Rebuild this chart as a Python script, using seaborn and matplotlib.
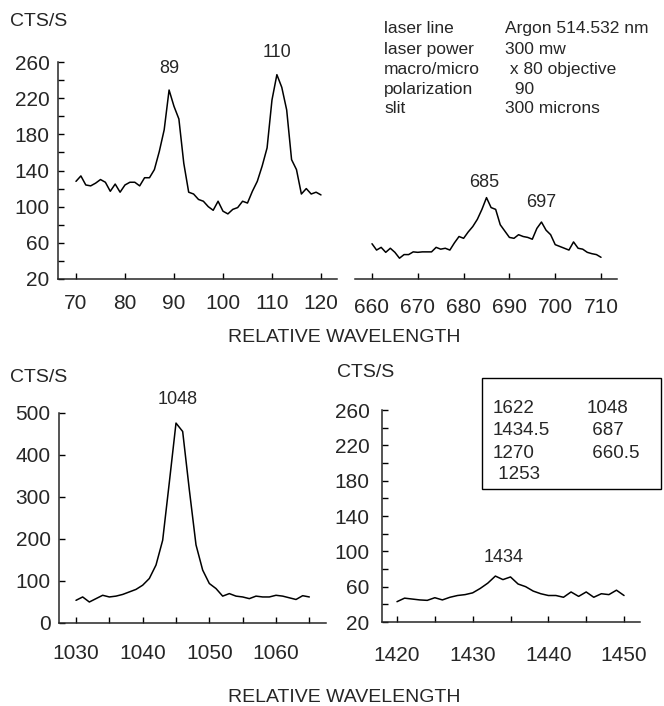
import numpy as np
import pandas as pd
import matplotlib
matplotlib.use("Agg")
import matplotlib.pyplot as plt
from matplotlib.patches import Rectangle
from matplotlib.ticker import FixedLocator
import seaborn as sns

# Raman spectra, counts per second versus relative wavelength
wl_a = list(range(70, 121))
cts_a = [128, 134, 124, 123, 126, 130, 127, 117, 125, 116,
         124, 127, 127, 123, 132, 132, 141, 161, 185, 229,
         211, 197, 148, 116, 114, 108, 106, 100, 96, 106,
         95, 92, 97, 99, 106, 104, 117, 128, 145, 165,
         218, 246, 232, 207, 152, 141, 114, 120, 114, 116,
         113]

wl_b = list(range(660, 711))
cts_b = [59, 52, 55, 49.5, 54, 49.5, 43, 47, 47, 50,
         49.5, 50, 50, 50, 55, 53, 54, 52, 60, 67,
         65, 72, 78, 86, 97, 110, 99, 97, 80, 73,
         66, 65, 69, 67, 66, 64, 76, 83, 74, 69,
         58, 56, 54, 52, 61, 54, 53, 49.5, 48, 47,
         44]

wl_c = list(range(1030, 1066))
cts_c = [54, 62, 50, 58, 66, 62, 64, 68, 74, 80,
         90, 106, 138, 197, 335, 476, 456, 317, 186, 126,
         94, 82, 64, 70, 64, 62, 58, 64, 62, 62,
         66, 64, 60, 56, 65, 62]

wl_d = list(range(1420, 1451))
cts_d = [43, 47, 46, 45, 44.5, 47.5, 45, 48, 50, 51,
         53, 58, 64, 72, 68, 71, 63, 60, 55, 52,
         50, 50, 48, 54, 49, 54, 48, 52, 51, 56,
         50]

# peak annotations: (text, x, y)
peaks_a = [("89", 89, 253), ("110", 111, 270)]
peaks_b = [("685", 684.5, 127), ("697", 697, 105)]
peaks_c = [("1048", 1045.2, 531)]
peaks_d = [("1434", 1434.1, 92.5)]

info_keys = ["laser line", "laser power", "macro/micro", "polarization", "slit"]
info_vals = ["Argon 514.532 nm", "300 mw", " x 80 objective", "  90", "300 microns"]

box_left = ["1622", "1434.5", "1270", " 1253"]
box_right = ["1048", " 687", " 660.5", ""]

sns.set_style("ticks")
plt.rcParams["font.family"] = ["Liberation Sans", "DejaVu Sans"]

W, H = 664, 706
fig = plt.figure(figsize=(W / 100, H / 100), dpi=100)


def rect(x0, y_top, x1, y_bot):
    return [x0 / W, 1 - y_bot / H, (x1 - x0) / W, (y_bot - y_top) / H]


def fx(x):
    return x / W


def fy(y):
    return 1 - y / H


def style(ax, xpad, ypad, show_y=True):
    sns.despine(ax=ax, left=not show_y)
    for s in ("left", "bottom"):
        ax.spines[s].set_linewidth(1.1)
    ax.tick_params(which="both", direction="in", length=4, width=1.0,
                   labelsize=15, color="black")
    ax.tick_params(axis="x", pad=xpad)
    ax.tick_params(axis="y", pad=ypad)
    ax.set_xlabel("")
    ax.set_ylabel("")
    if not show_y:
        ax.set_yticks([])


def draw(ax, x, y):
    df = pd.DataFrame({"wl": x, "cts": y})
    sns.lineplot(data=df, x="wl", y="cts", ax=ax, color="black",
                 linewidth=1.1, legend=False)


def label_peaks(ax, peaks, size=13):
    for t, x, y in peaks:
        ax.text(x, y, t, ha="center", va="center", fontsize=size, clip_on=False)


# upper left: 70-120
ax1 = fig.add_axes(rect(58, 62, 337, 279))
draw(ax1, wl_a, cts_a)
ax1.set_xlim(66.33, 123.27)
ax1.set_ylim(20, 260)
ax1.xaxis.set_major_locator(FixedLocator([70, 80, 90, 100, 110, 120]))
ax1.yaxis.set_major_locator(FixedLocator([20, 60, 100, 140, 180, 220, 260]))
ax1.yaxis.set_minor_locator(FixedLocator([40, 80, 120, 160, 200, 240]))
style(ax1, xpad=11, ypad=6)
label_peaks(ax1, peaks_a)

# upper right: 660-710, same intensity scale
ax2 = fig.add_axes(rect(355, 62, 617, 279))
draw(ax2, wl_b, cts_b)
ax2.set_xlim(656.29, 713.49)
ax2.set_ylim(20, 260)
ax2.xaxis.set_major_locator(FixedLocator([660, 670, 680, 690, 700, 710]))
style(ax2, xpad=14, ypad=6, show_y=False)
label_peaks(ax2, peaks_b)

# lower left: 1030-1065
ax3 = fig.add_axes(rect(59, 413, 326, 623))
draw(ax3, wl_c, cts_c)
ax3.set_xlim(1027.45, 1067.5)
ax3.set_ylim(0, 500)
ax3.xaxis.set_major_locator(FixedLocator([1030, 1040, 1050, 1060]))
ax3.xaxis.set_minor_locator(FixedLocator([1035, 1045, 1055, 1065]))
ax3.yaxis.set_major_locator(FixedLocator([0, 100, 200, 300, 400, 500]))
style(ax3, xpad=15, ypad=6)
label_peaks(ax3, peaks_c)

# lower right: 1420-1450
ax4 = fig.add_axes(rect(382, 410, 640, 622))
draw(ax4, wl_d, cts_d)
ax4.set_xlim(1418.02, 1452.11)
ax4.set_ylim(20, 260)
ax4.xaxis.set_major_locator(FixedLocator([1420, 1430, 1440, 1450]))
ax4.xaxis.set_minor_locator(FixedLocator([1425, 1435, 1445]))
ax4.yaxis.set_major_locator(FixedLocator([20, 60, 100, 140, 180, 220, 260]))
ax4.yaxis.set_minor_locator(FixedLocator([40, 80, 120, 160, 200, 240]))
style(ax4, xpad=17, ypad=9)
label_peaks(ax4, peaks_d)

# axis titles
fig.text(fx(10), fy(22), "CTS/S", fontsize=14, va="center", ha="left")
fig.text(fx(10), fy(378), "CTS/S", fontsize=14, va="center", ha="left")
fig.text(fx(337), fy(373), "CTS/S", fontsize=14, va="center", ha="left")
fig.text(fx(344), fy(338), "RELATIVE WAVELENGTH", fontsize=14, va="center", ha="center")
fig.text(fx(344), fy(697), "RELATIVE WAVELENGTH", fontsize=14, va="center", ha="center")

# acquisition parameters
info_base = [33, 54, 74, 94, 113]
for k, v, yb in zip(info_keys, info_vals, info_base):
    fig.text(fx(384), fy(yb), k, fontsize=12.5, va="baseline", ha="left")
    fig.text(fx(505), fy(yb), v, fontsize=12.5, va="baseline", ha="left")

# framed list of band positions
fig.patches.append(Rectangle((fx(482), fy(489)), (661 - 482) / W, (489 - 378) / H,
                             transform=fig.transFigure, fill=False,
                             edgecolor="black", linewidth=1.0))
box_base = [413, 435, 458, 479]
for l, r, yb in zip(box_left, box_right, box_base):
    fig.text(fx(493), fy(yb), l, fontsize=13.5, va="baseline", ha="left")
    if r:
        fig.text(fx(587), fy(yb), r, fontsize=13.5, va="baseline", ha="left")

fig.savefig("out.png", dpi=100)
